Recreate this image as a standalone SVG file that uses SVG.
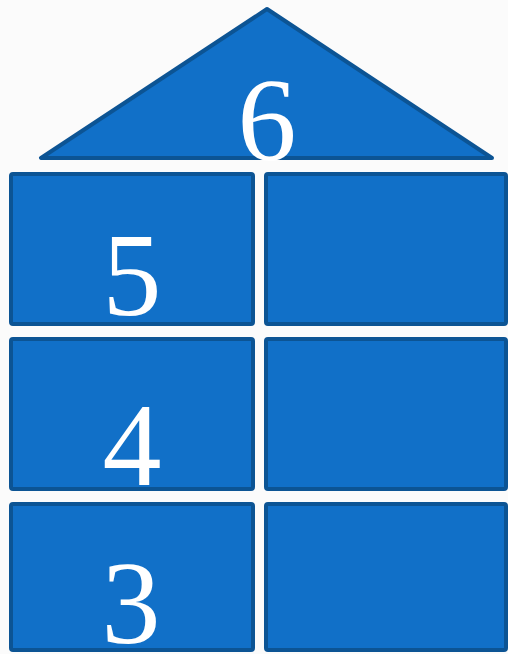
<svg xmlns="http://www.w3.org/2000/svg" width="508" height="654" viewBox="0 0 508 654">
  <style>
    .blk { fill: #1170c8; stroke: #0c5494; stroke-width: 4; stroke-linejoin: round; }
    .num { fill: #ffffff; font-family: "Liberation Serif", "DejaVu Serif", serif; font-size: 118px; text-anchor: middle; }
  </style>
  <rect x="0" y="0" width="508" height="654" fill="#fbfbfb"/>
  <g id="roof">
    <polygon class="blk" points="267,9 41,158 492,158"/>
    <text class="num" x="267" y="160">6</text>
  </g>
  <g id="cell-5">
    <rect class="blk" x="11" y="174" width="242" height="150" rx="2"/>
    <text class="num" x="132" y="315">5</text>
  </g>
  <g id="cell-5-right">
    <rect class="blk" x="266" y="174" width="240" height="150" rx="2"/>
  </g>
  <g id="cell-4">
    <rect class="blk" x="11" y="339" width="242" height="150" rx="2"/>
    <text class="num" x="132" y="485">4</text>
  </g>
  <g id="cell-4-right">
    <rect class="blk" x="266" y="339" width="240" height="150" rx="2"/>
  </g>
  <g id="cell-3">
    <rect class="blk" x="11" y="504" width="242" height="146" rx="2"/>
    <text class="num" x="131" y="643">3</text>
  </g>
  <g id="cell-3-right">
    <rect class="blk" x="266" y="504" width="240" height="146" rx="2"/>
  </g>
  <g id="connectors"></g>
</svg>
